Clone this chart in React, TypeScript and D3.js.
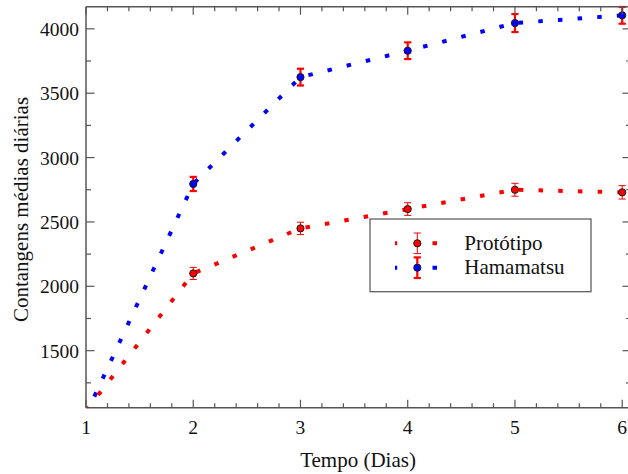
import React from "react";
import * as d3 from "d3";

const days = [1, 2, 3, 4, 5, 6];
const prototipo = [1035, 2100, 2450, 2600, 2750, 2730];
const hamamatsu = [1005, 2795, 3625, 3830, 4045, 4105];
const prototipoErr = [null, 47, 48, 49, 50, 52];
const hamamatsuErr = [null, 55, 65, 65, 70, 65];
const yTickValues = [1500, 2000, 2500, 3000, 3500, 4000];
const xTickValues = [1, 2, 3, 4, 5, 6];
const seriesNames = ["Protótipo", "Hamamatsu"];
const xTitle = "Tempo (Dias)";
const yTitle = "Contangens médias diárias";

const W = 628;
const H = 474;
const L = 86;
const R = 631;
const T = 6.7;
const B = 407.7;
const FONT = "Liberation Serif, Times New Roman, serif";
const AXIS = "#555";
const txt = { fontFamily: FONT };

export default function App() {
  const x = d3.scaleLinear().domain([1, 6]).range([L, 622.2]);
  const y = d3.scaleLinear().domain([1057, 4172]).range([B, T]);

  const xMinor = d3.range(1, 6.5, 0.2).filter((v) => x(v) <= R + 0.1);
  const yMinor = d3.range(1250, 4200, 250).filter((v) => y(v) >= T);

  const line = d3
    .line<number>()
    .x((_, i) => x(days[i]))
    .y((v) => y(v));

  const series = [
    { name: seriesNames[1], vals: hamamatsu, err: hamamatsuErr, color: "#0000ff", thick: true },
    { name: seriesNames[0], vals: prototipo, err: prototipoErr, color: "#ff0000", thick: false },
  ];

  const errBar = (cx: number, v: number, e: number, thick: boolean, key: string) => {
    const y1 = y(v + e);
    const y2 = y(v - e);
    const sw = thick ? 2.2 : 1;
    return (
      <g key={key} stroke="#ff0000" strokeWidth={sw}>
        <line x1={cx} x2={cx} y1={y1} y2={y2} />
        <line x1={cx - 3.6} x2={cx + 3.6} y1={y1} y2={y1} />
        <line x1={cx - 3.6} x2={cx + 3.6} y1={y2} y2={y2} />
      </g>
    );
  };

  return (
    <svg
      width={W}
      height={H}
      style={{ position: "absolute", left: 0, top: 0, background: "#fff" }}
    >
      <defs>
        <clipPath id="plot">
          <rect x={L} y={T} width={R - L} height={B - T} />
        </clipPath>
      </defs>
      <rect x={0} y={0} width={W} height={H} fill="#fff" />

      {/* curves */}
      <g clipPath="url(#plot)">
        {series.map((s) => (
          <path
            key={s.name}
            d={line(s.vals) || ""}
            fill="none"
            stroke={s.color}
            strokeWidth={4}
            strokeDasharray="4.5 15.2"
          />
        ))}
      </g>

      {/* error bars and markers */}
      {series.map((s) =>
        s.vals.map((v, i) =>
          s.err[i] == null ? null : (
            <g key={s.name + i}>
              {errBar(x(days[i]), v, s.err[i] as number, s.thick, "e")}
              <circle cx={x(days[i])} cy={y(v)} r={3.6} fill={s.color} stroke="#1a1a1a" strokeWidth={1} />
            </g>
          )
        )
      )}

      {/* frame */}
      <g stroke={AXIS} strokeWidth={1.5} fill="none">
        <line x1={L} x2={L} y1={T} y2={B} />
        <line x1={L} x2={R + 2} y1={B} y2={B} />
        <line x1={L} x2={R + 2} y1={T} y2={T} />
        <line x1={R} x2={R} y1={T} y2={B} />
      </g>
      <g stroke={AXIS} strokeWidth={1.2}>
        {xMinor.map((v) => {
          const major = xTickValues.some((t) => Math.abs(t - v) < 1e-6);
          const len = major ? 8 : 4.5;
          return (
            <g key={"xt" + v}>
              <line x1={x(v)} x2={x(v)} y1={B} y2={B - len} />
              <line x1={x(v)} x2={x(v)} y1={T} y2={T + len} />
            </g>
          );
        })}
        {yMinor.map((v) => {
          const major = yTickValues.includes(v);
          const len = major ? 8.5 : 5;
          return (
            <g key={"yt" + v}>
              <line x1={L} x2={L + len} y1={y(v)} y2={y(v)} />
              <line x1={R} x2={R - len} y1={y(v)} y2={y(v)} />
            </g>
          );
        })}
      </g>

      {/* tick labels */}
      <g fill="#111">
        {xTickValues.map((v) => (
          <text key={"xl" + v} x={x(v)} y={433.5} textAnchor="middle" fontSize={19.5} style={txt}>
            {v}
          </text>
        ))}
        {yTickValues.map((v) => (
          <text key={"yl" + v} x={79} y={y(v) + 7} textAnchor="end" fontSize={19.5} style={txt}>
            {v}
          </text>
        ))}
      </g>

      {/* axis titles */}
      <text x={358} y={467} fontSize={21} textAnchor="middle" fill="#111" style={txt}>
        {xTitle}
      </text>
      <text
        transform={`translate(28,209.5) rotate(-90)`}
        fontSize={21}
        textAnchor="middle"
        fill="#111"
        style={txt}
      >
        {yTitle}
      </text>

      {/* legend */}
      <rect x={370} y={219} width={221} height={72.7} fill="#fff" stroke="#606060" strokeWidth={1.3} />
      {[series[1], series[0]].map((s, k) => {
        const ly = 243.3 + k * 24.4;
        return (
          <g key={"lg" + s.name}>
            <line
              x1={395}
              x2={437}
              y1={ly}
              y2={ly}
              stroke={s.color}
              strokeWidth={4}
              strokeDasharray="2.2 35.3 4.5"
            />
            <g stroke="#ff0000" strokeWidth={s.thick ? 2.2 : 1}>
              <line x1={417.3} x2={417.3} y1={ly - 10.3} y2={ly + 10.3} />
              <line x1={413.7} x2={420.9} y1={ly - 10.3} y2={ly - 10.3} />
              <line x1={413.7} x2={420.9} y1={ly + 10.3} y2={ly + 10.3} />
            </g>
            <circle cx={417.3} cy={ly} r={3.6} fill={s.color} stroke="#1a1a1a" strokeWidth={1} />
            <text x={464.3} y={ly + 6.3} fontSize={21} fill="#111" style={txt}>
              {s.name}
            </text>
          </g>
        );
      })}
    </svg>
  );
}
